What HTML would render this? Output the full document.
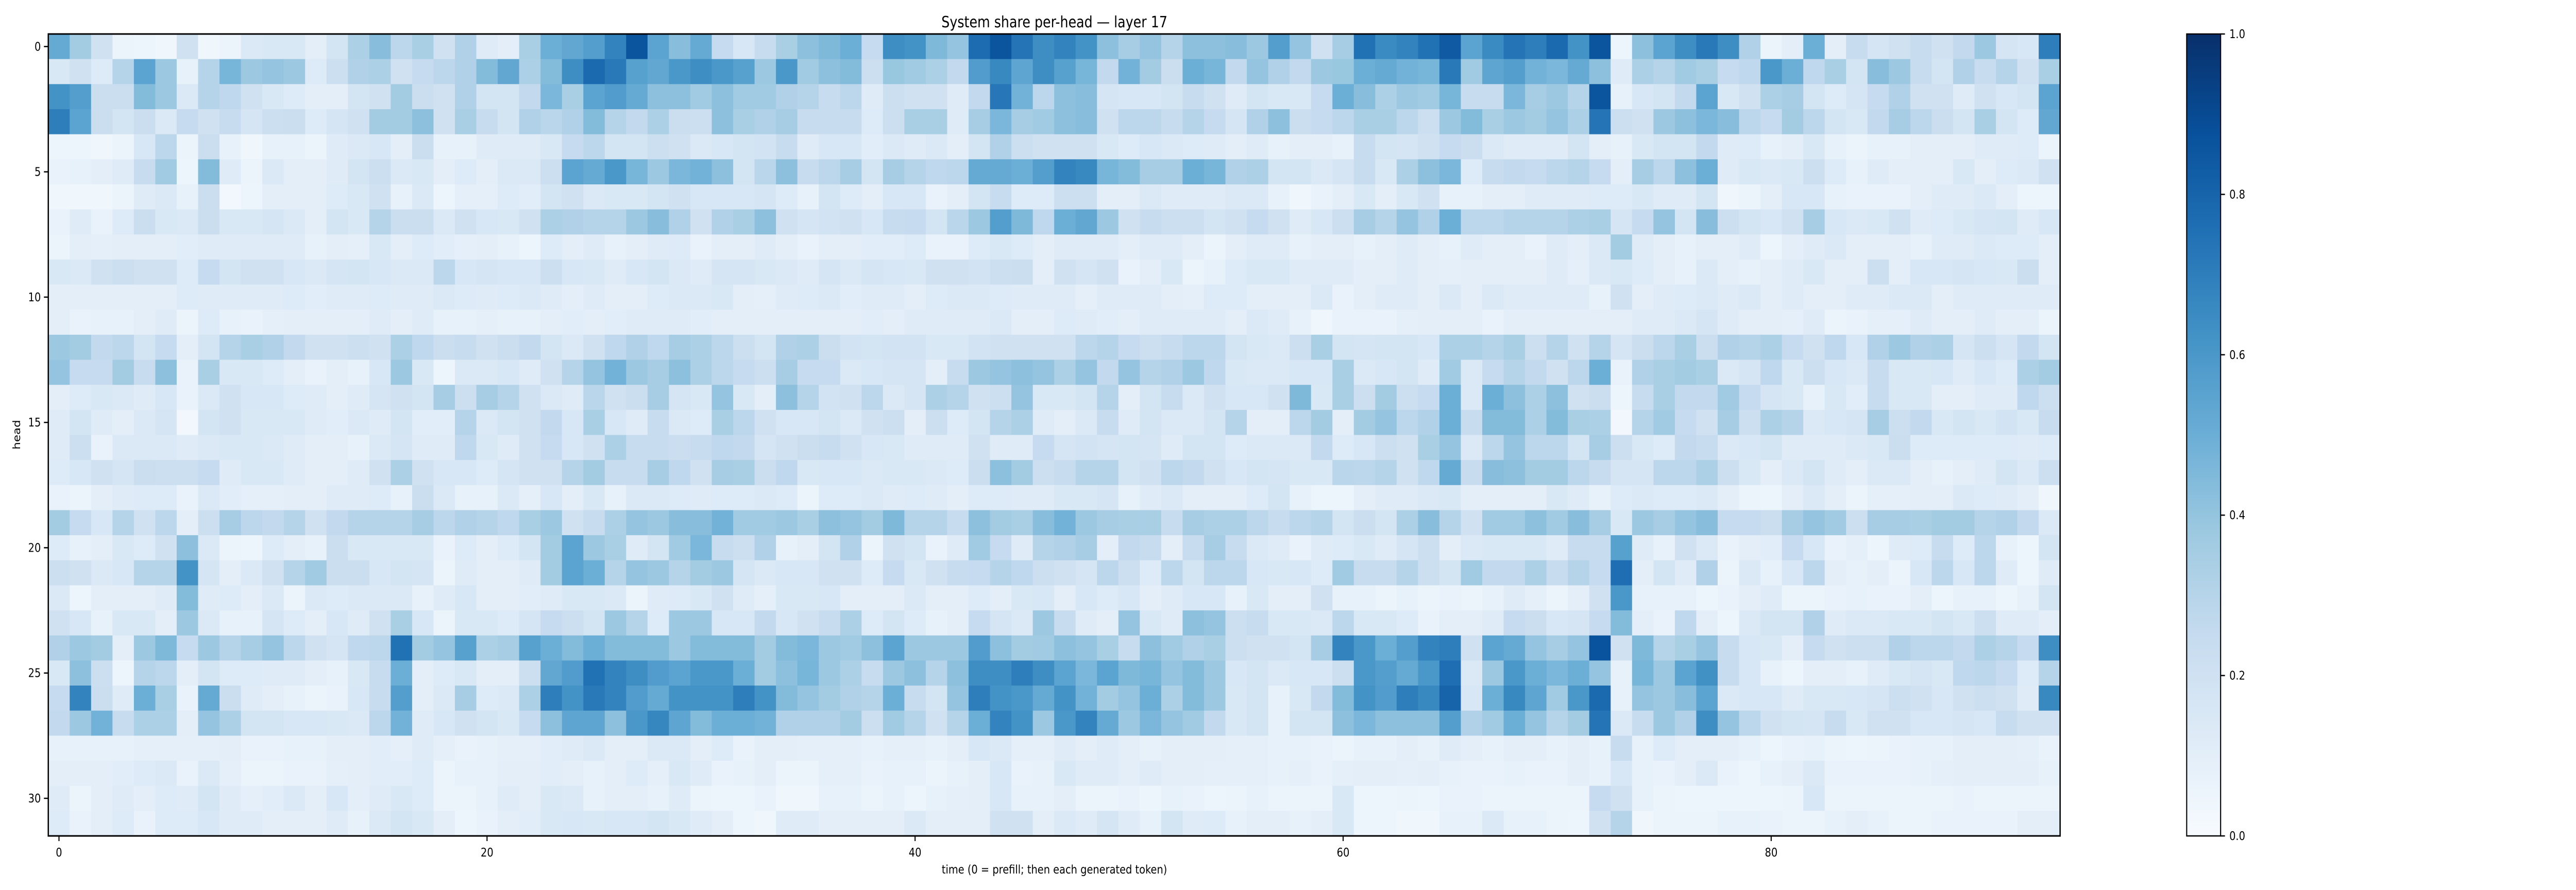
<!DOCTYPE html>
<html><head><meta charset="utf-8"><title>System share per-head — layer 17</title>
<style>html,body{margin:0;padding:0;background:#fff;overflow:hidden}svg{display:block;position:absolute;left:0;top:0;width:100vw;height:100vh}text{font-family:"DejaVu Sans","Liberation Sans",sans-serif;fill:#000}</style>
</head><body>
<svg id="chart" viewBox="0 0 5922 1728" preserveAspectRatio="none" xmlns="http://www.w3.org/2000/svg">
<text x="2424" y="53" font-size="30" text-anchor="middle">System share per-head — layer 17</text>
<g id="cells"></g>
<g id="axes"></g>
<text x="2424" y="1696" font-size="23" text-anchor="middle">time (0 = prefill; then each generated token)</text>
<text x="46" y="844" font-size="23" text-anchor="middle" transform="rotate(-90 46 844)">head</text>
<defs><linearGradient id="cbgrad" x1="0" y1="1" x2="0" y2="0">
<stop offset="0" stop-color="#f7fbff"/><stop offset="0.125" stop-color="#deebf7"/><stop offset="0.25" stop-color="#c6dbef"/><stop offset="0.375" stop-color="#9ecae1"/><stop offset="0.5" stop-color="#6baed6"/><stop offset="0.625" stop-color="#4292c6"/><stop offset="0.75" stop-color="#2171b5"/><stop offset="0.875" stop-color="#08519c"/><stop offset="1" stop-color="#08306b"/>
</linearGradient></defs>
<g id="colorbar"></g>
</svg>
<script>
const xTicks = [0, 20, 40, 60, 80];
const yTicks = [0, 5, 10, 15, 20, 25, 30];
const cbTicks = [0.0, 0.2, 0.4, 0.6, 0.8, 1.0];
const h0=[0.52,0.36,0.2,0.06,0.05,0.04,0.2,0.04,0.06,0.14,0.15,0.15,0.1,0.18,0.33,0.43,0.28,0.34,0.2,0.32,0.12,0.1,0.34,0.5,0.53,0.57,0.68,0.86,0.55,0.43,0.52,0.25,0.16,0.24,0.34,0.42,0.45,0.5,0.25,0.64,0.62,0.45,0.4,0.77,0.86,0.74,0.64,0.68,0.62,0.42,0.35,0.4,0.3,0.42,0.42,0.43,0.38,0.57,0.4,0.2,0.35,0.75,0.65,0.68,0.75,0.84,0.55,0.65,0.74,0.7,0.78,0.62,0.86,0.05,0.42,0.55,0.64,0.72,0.64,0.32,0.06,0.1,0.5,0.1,0.24,0.17,0.2,0.24,0.2,0.26,0.38,0.17,0.16,0.7];
const h1=[0.15,0.2,0.13,0.3,0.55,0.38,0.08,0.3,0.47,0.38,0.4,0.38,0.13,0.22,0.32,0.33,0.2,0.25,0.28,0.32,0.44,0.53,0.33,0.44,0.64,0.78,0.72,0.56,0.53,0.6,0.64,0.6,0.56,0.38,0.6,0.37,0.42,0.44,0.22,0.39,0.37,0.33,0.26,0.58,0.66,0.54,0.64,0.56,0.47,0.26,0.48,0.36,0.23,0.5,0.47,0.26,0.4,0.32,0.26,0.38,0.39,0.5,0.52,0.48,0.47,0.72,0.37,0.54,0.57,0.48,0.46,0.52,0.42,0.12,0.33,0.3,0.37,0.34,0.25,0.27,0.6,0.5,0.27,0.34,0.18,0.43,0.38,0.24,0.18,0.32,0.24,0.3,0.2,0.34];
const h2=[0.62,0.57,0.23,0.23,0.44,0.38,0.14,0.3,0.27,0.2,0.15,0.13,0.1,0.1,0.18,0.2,0.36,0.23,0.2,0.32,0.18,0.18,0.26,0.46,0.34,0.55,0.58,0.52,0.42,0.42,0.37,0.42,0.37,0.37,0.32,0.3,0.24,0.28,0.12,0.22,0.2,0.2,0.12,0.26,0.73,0.48,0.28,0.42,0.43,0.17,0.16,0.16,0.18,0.24,0.2,0.12,0.18,0.15,0.15,0.25,0.5,0.43,0.33,0.38,0.37,0.47,0.24,0.24,0.46,0.35,0.38,0.3,0.86,0.08,0.16,0.18,0.26,0.55,0.15,0.2,0.33,0.35,0.18,0.13,0.17,0.25,0.32,0.2,0.2,0.12,0.2,0.16,0.18,0.55];
const h3=[0.7,0.55,0.23,0.18,0.23,0.14,0.25,0.2,0.24,0.17,0.22,0.23,0.13,0.17,0.2,0.36,0.36,0.42,0.2,0.34,0.24,0.18,0.32,0.29,0.32,0.44,0.3,0.26,0.33,0.23,0.22,0.42,0.34,0.32,0.35,0.24,0.24,0.24,0.13,0.22,0.34,0.34,0.12,0.35,0.46,0.35,0.37,0.42,0.43,0.2,0.28,0.28,0.24,0.3,0.25,0.17,0.32,0.42,0.23,0.25,0.28,0.34,0.34,0.28,0.22,0.38,0.44,0.34,0.38,0.36,0.4,0.33,0.74,0.22,0.2,0.38,0.42,0.46,0.43,0.28,0.25,0.36,0.28,0.18,0.15,0.26,0.35,0.28,0.23,0.18,0.34,0.18,0.13,0.53];
const h4=[0.05,0.05,0.04,0.06,0.16,0.28,0.06,0.23,0.08,0.04,0.08,0.08,0.06,0.12,0.14,0.16,0.1,0.23,0.08,0.08,0.12,0.12,0.12,0.15,0.25,0.28,0.18,0.18,0.22,0.2,0.14,0.16,0.18,0.19,0.24,0.12,0.16,0.16,0.11,0.14,0.12,0.14,0.1,0.18,0.32,0.22,0.2,0.2,0.2,0.15,0.13,0.16,0.14,0.13,0.12,0.1,0.12,0.08,0.1,0.1,0.08,0.24,0.18,0.17,0.2,0.25,0.23,0.14,0.12,0.12,0.12,0.18,0.1,0.08,0.15,0.18,0.18,0.26,0.12,0.13,0.08,0.1,0.15,0.08,0.06,0.08,0.08,0.1,0.1,0.1,0.12,0.12,0.13,0.06];
const h5=[0.07,0.08,0.1,0.12,0.24,0.37,0.05,0.44,0.12,0.06,0.14,0.1,0.1,0.12,0.18,0.22,0.14,0.15,0.1,0.13,0.1,0.14,0.14,0.22,0.55,0.52,0.6,0.47,0.38,0.46,0.48,0.42,0.18,0.29,0.42,0.24,0.28,0.35,0.18,0.35,0.3,0.27,0.28,0.52,0.52,0.5,0.57,0.68,0.66,0.47,0.44,0.35,0.35,0.5,0.47,0.32,0.33,0.18,0.18,0.14,0.17,0.24,0.15,0.33,0.42,0.46,0.13,0.24,0.26,0.25,0.28,0.3,0.25,0.1,0.35,0.28,0.42,0.5,0.12,0.15,0.14,0.15,0.22,0.13,0.08,0.12,0.1,0.1,0.1,0.15,0.1,0.13,0.14,0.2];
const h6=[0.04,0.04,0.04,0.06,0.12,0.14,0.08,0.23,0.03,0.05,0.1,0.1,0.1,0.13,0.15,0.2,0.08,0.14,0.05,0.09,0.09,0.13,0.11,0.18,0.2,0.14,0.15,0.15,0.18,0.2,0.16,0.16,0.16,0.17,0.13,0.08,0.18,0.13,0.1,0.16,0.16,0.07,0.1,0.18,0.24,0.13,0.13,0.22,0.22,0.1,0.1,0.14,0.12,0.12,0.12,0.14,0.14,0.08,0.04,0.07,0.1,0.15,0.1,0.15,0.2,0.08,0.08,0.1,0.1,0.12,0.12,0.12,0.13,0.13,0.15,0.12,0.12,0.18,0.04,0.06,0.1,0.16,0.16,0.08,0.07,0.07,0.07,0.1,0.12,0.12,0.14,0.1,0.05,0.05];
const h7=[0.07,0.12,0.07,0.13,0.23,0.15,0.14,0.23,0.15,0.15,0.17,0.14,0.1,0.18,0.15,0.3,0.23,0.23,0.14,0.2,0.16,0.15,0.2,0.33,0.32,0.3,0.3,0.38,0.43,0.32,0.2,0.32,0.34,0.42,0.2,0.17,0.19,0.2,0.16,0.24,0.25,0.18,0.29,0.38,0.57,0.45,0.27,0.5,0.53,0.38,0.2,0.24,0.22,0.22,0.18,0.2,0.25,0.2,0.12,0.16,0.22,0.35,0.3,0.4,0.32,0.5,0.28,0.28,0.3,0.3,0.3,0.33,0.34,0.17,0.25,0.4,0.18,0.43,0.22,0.18,0.16,0.2,0.35,0.16,0.14,0.15,0.2,0.12,0.13,0.15,0.17,0.18,0.12,0.16];
const h8=[0.06,0.1,0.09,0.1,0.1,0.1,0.11,0.12,0.12,0.12,0.12,0.12,0.08,0.1,0.09,0.15,0.1,0.13,0.11,0.09,0.1,0.08,0.05,0.13,0.1,0.12,0.08,0.1,0.12,0.13,0.07,0.1,0.1,0.12,0.1,0.07,0.1,0.1,0.11,0.11,0.13,0.07,0.07,0.13,0.15,0.13,0.1,0.12,0.12,0.12,0.1,0.12,0.12,0.1,0.06,0.1,0.12,0.12,0.08,0.1,0.1,0.08,0.1,0.12,0.1,0.08,0.12,0.1,0.1,0.07,0.12,0.1,0.14,0.36,0.12,0.1,0.08,0.1,0.1,0.12,0.05,0.1,0.12,0.14,0.1,0.1,0.1,0.08,0.12,0.12,0.14,0.13,0.13,0.1];
const h9=[0.15,0.14,0.2,0.22,0.2,0.2,0.13,0.25,0.18,0.2,0.2,0.16,0.14,0.17,0.18,0.16,0.14,0.14,0.28,0.16,0.17,0.16,0.16,0.22,0.16,0.15,0.12,0.16,0.18,0.14,0.12,0.17,0.17,0.15,0.14,0.12,0.17,0.14,0.17,0.16,0.15,0.2,0.2,0.19,0.22,0.23,0.1,0.2,0.17,0.2,0.07,0.1,0.15,0.06,0.08,0.13,0.15,0.15,0.12,0.12,0.12,0.1,0.1,0.12,0.1,0.09,0.1,0.1,0.1,0.1,0.12,0.09,0.14,0.15,0.13,0.1,0.08,0.14,0.1,0.08,0.1,0.12,0.15,0.1,0.1,0.22,0.1,0.16,0.16,0.17,0.16,0.15,0.23,0.1];
const h10=[0.1,0.1,0.1,0.1,0.1,0.1,0.13,0.12,0.12,0.12,0.12,0.13,0.11,0.12,0.12,0.13,0.12,0.12,0.14,0.13,0.12,0.13,0.14,0.12,0.1,0.12,0.1,0.1,0.13,0.14,0.14,0.15,0.1,0.09,0.12,0.13,0.14,0.11,0.12,0.12,0.1,0.13,0.14,0.14,0.13,0.12,0.12,0.12,0.09,0.12,0.12,0.12,0.1,0.09,0.13,0.13,0.1,0.1,0.1,0.14,0.07,0.1,0.12,0.12,0.1,0.14,0.1,0.14,0.12,0.12,0.12,0.12,0.08,0.2,0.1,0.12,0.13,0.14,0.12,0.14,0.1,0.12,0.1,0.1,0.12,0.12,0.14,0.14,0.1,0.12,0.12,0.12,0.12,0.12];
const h11=[0.1,0.07,0.08,0.08,0.1,0.12,0.06,0.13,0.08,0.07,0.09,0.1,0.1,0.1,0.1,0.12,0.1,0.12,0.08,0.08,0.09,0.08,0.08,0.1,0.11,0.1,0.11,0.12,0.12,0.12,0.11,0.1,0.1,0.1,0.1,0.1,0.1,0.1,0.11,0.1,0.12,0.12,0.12,0.12,0.14,0.1,0.1,0.13,0.12,0.11,0.1,0.12,0.12,0.12,0.12,0.1,0.14,0.12,0.08,0.04,0.07,0.07,0.07,0.09,0.1,0.1,0.1,0.07,0.1,0.1,0.1,0.1,0.1,0.1,0.12,0.12,0.14,0.17,0.12,0.1,0.1,0.09,0.12,0.06,0.07,0.09,0.09,0.12,0.1,0.1,0.12,0.1,0.1,0.06];
const h12=[0.38,0.36,0.26,0.28,0.18,0.25,0.1,0.18,0.3,0.34,0.32,0.26,0.2,0.2,0.22,0.2,0.33,0.27,0.23,0.24,0.2,0.23,0.26,0.18,0.14,0.2,0.27,0.32,0.27,0.35,0.33,0.28,0.22,0.18,0.32,0.33,0.23,0.19,0.18,0.19,0.19,0.15,0.15,0.19,0.2,0.2,0.2,0.2,0.28,0.3,0.25,0.22,0.24,0.28,0.28,0.18,0.15,0.14,0.22,0.34,0.18,0.17,0.18,0.18,0.16,0.33,0.33,0.3,0.34,0.22,0.3,0.2,0.3,0.17,0.23,0.28,0.34,0.23,0.32,0.3,0.33,0.25,0.2,0.27,0.16,0.32,0.38,0.32,0.33,0.17,0.22,0.17,0.26,0.18];
const h13=[0.4,0.25,0.25,0.36,0.24,0.42,0.07,0.34,0.15,0.15,0.13,0.1,0.07,0.1,0.08,0.16,0.38,0.15,0.05,0.14,0.14,0.16,0.12,0.2,0.3,0.4,0.48,0.38,0.35,0.42,0.33,0.28,0.25,0.22,0.35,0.25,0.25,0.14,0.16,0.17,0.17,0.1,0.24,0.38,0.4,0.42,0.4,0.33,0.4,0.26,0.4,0.3,0.32,0.38,0.27,0.15,0.14,0.14,0.16,0.16,0.34,0.14,0.16,0.18,0.12,0.37,0.14,0.25,0.3,0.26,0.2,0.28,0.5,0.07,0.32,0.34,0.36,0.34,0.14,0.17,0.27,0.15,0.22,0.16,0.14,0.24,0.15,0.15,0.16,0.12,0.16,0.13,0.33,0.36];
const h14=[0.1,0.13,0.15,0.14,0.12,0.16,0.07,0.14,0.2,0.16,0.16,0.13,0.12,0.1,0.12,0.17,0.2,0.18,0.35,0.22,0.35,0.3,0.2,0.14,0.12,0.29,0.2,0.23,0.35,0.17,0.15,0.4,0.15,0.1,0.42,0.3,0.19,0.2,0.28,0.14,0.17,0.33,0.3,0.2,0.22,0.4,0.15,0.15,0.18,0.3,0.1,0.18,0.24,0.14,0.2,0.16,0.16,0.2,0.45,0.15,0.34,0.22,0.36,0.22,0.25,0.5,0.14,0.5,0.42,0.33,0.42,0.2,0.23,0.05,0.24,0.34,0.26,0.26,0.37,0.25,0.17,0.15,0.08,0.15,0.11,0.24,0.15,0.15,0.1,0.1,0.12,0.12,0.27,0.22];
const h15=[0.12,0.18,0.12,0.1,0.14,0.17,0.03,0.18,0.2,0.15,0.15,0.15,0.12,0.11,0.14,0.12,0.18,0.11,0.11,0.3,0.14,0.18,0.2,0.26,0.16,0.34,0.16,0.12,0.24,0.14,0.13,0.34,0.28,0.2,0.16,0.16,0.18,0.14,0.2,0.22,0.1,0.22,0.13,0.18,0.3,0.33,0.12,0.1,0.14,0.24,0.12,0.18,0.14,0.14,0.18,0.3,0.1,0.1,0.28,0.36,0.1,0.36,0.4,0.28,0.32,0.5,0.24,0.44,0.44,0.33,0.44,0.34,0.33,0.03,0.3,0.37,0.25,0.2,0.35,0.22,0.33,0.3,0.14,0.16,0.17,0.35,0.22,0.26,0.15,0.18,0.15,0.19,0.15,0.24];
const h16=[0.12,0.22,0.07,0.14,0.14,0.14,0.12,0.14,0.15,0.15,0.14,0.12,0.1,0.1,0.08,0.14,0.17,0.12,0.12,0.27,0.15,0.12,0.2,0.25,0.16,0.2,0.33,0.24,0.24,0.23,0.24,0.27,0.26,0.17,0.2,0.23,0.24,0.2,0.16,0.15,0.12,0.12,0.12,0.2,0.12,0.12,0.25,0.17,0.19,0.17,0.18,0.17,0.12,0.18,0.18,0.13,0.14,0.14,0.14,0.26,0.13,0.16,0.22,0.2,0.34,0.4,0.14,0.28,0.4,0.28,0.28,0.18,0.35,0.22,0.15,0.13,0.26,0.24,0.14,0.16,0.18,0.12,0.12,0.12,0.14,0.15,0.23,0.13,0.13,0.13,0.13,0.13,0.12,0.13];
const h17=[0.13,0.16,0.2,0.17,0.23,0.22,0.22,0.25,0.12,0.15,0.15,0.12,0.1,0.1,0.12,0.2,0.33,0.2,0.16,0.16,0.13,0.17,0.2,0.2,0.3,0.36,0.24,0.24,0.35,0.27,0.2,0.35,0.34,0.23,0.27,0.15,0.16,0.16,0.14,0.15,0.15,0.14,0.13,0.23,0.42,0.36,0.22,0.24,0.3,0.3,0.18,0.2,0.28,0.26,0.2,0.16,0.18,0.17,0.15,0.15,0.29,0.28,0.3,0.2,0.27,0.52,0.24,0.43,0.42,0.36,0.36,0.28,0.24,0.17,0.17,0.28,0.28,0.33,0.22,0.15,0.1,0.14,0.18,0.12,0.1,0.14,0.14,0.1,0.08,0.1,0.12,0.18,0.14,0.22];
const h18=[0.07,0.06,0.1,0.12,0.13,0.13,0.07,0.14,0.11,0.09,0.09,0.1,0.1,0.12,0.12,0.13,0.08,0.23,0.14,0.08,0.08,0.14,0.09,0.16,0.1,0.15,0.08,0.14,0.14,0.13,0.12,0.13,0.13,0.14,0.13,0.06,0.13,0.13,0.14,0.12,0.13,0.12,0.1,0.13,0.13,0.12,0.12,0.15,0.15,0.17,0.08,0.12,0.14,0.1,0.1,0.1,0.13,0.18,0.08,0.05,0.05,0.1,0.12,0.12,0.14,0.15,0.1,0.1,0.1,0.1,0.15,0.12,0.08,0.13,0.14,0.13,0.13,0.14,0.1,0.06,0.05,0.1,0.14,0.1,0.06,0.09,0.09,0.1,0.1,0.14,0.13,0.12,0.1,0.04];
const h19=[0.36,0.25,0.16,0.3,0.2,0.28,0.1,0.22,0.35,0.28,0.26,0.3,0.2,0.26,0.3,0.3,0.3,0.35,0.28,0.32,0.3,0.27,0.34,0.38,0.2,0.24,0.33,0.4,0.38,0.43,0.43,0.48,0.37,0.37,0.38,0.34,0.42,0.4,0.36,0.45,0.3,0.3,0.24,0.42,0.36,0.34,0.43,0.48,0.38,0.35,0.34,0.34,0.24,0.35,0.33,0.33,0.28,0.24,0.28,0.3,0.18,0.23,0.18,0.33,0.43,0.3,0.2,0.37,0.37,0.42,0.37,0.43,0.35,0.15,0.38,0.35,0.4,0.43,0.25,0.25,0.23,0.35,0.4,0.37,0.22,0.35,0.35,0.34,0.36,0.36,0.3,0.32,0.26,0.14];
const h20=[0.13,0.08,0.1,0.15,0.13,0.2,0.42,0.14,0.06,0.05,0.13,0.1,0.08,0.23,0.15,0.15,0.15,0.15,0.07,0.13,0.1,0.13,0.18,0.36,0.55,0.38,0.34,0.12,0.18,0.37,0.46,0.24,0.22,0.32,0.08,0.1,0.18,0.32,0.06,0.2,0.18,0.07,0.12,0.37,0.25,0.12,0.3,0.32,0.35,0.1,0.26,0.24,0.1,0.24,0.35,0.24,0.14,0.12,0.07,0.12,0.13,0.15,0.12,0.17,0.22,0.1,0.14,0.15,0.15,0.15,0.12,0.24,0.24,0.56,0.12,0.08,0.2,0.14,0.07,0.1,0.11,0.25,0.16,0.07,0.09,0.05,0.12,0.13,0.24,0.13,0.28,0.08,0.05,0.18];
const h21=[0.22,0.2,0.14,0.16,0.3,0.3,0.62,0.17,0.1,0.14,0.2,0.3,0.37,0.23,0.23,0.16,0.18,0.17,0.06,0.12,0.1,0.1,0.12,0.36,0.55,0.5,0.3,0.4,0.38,0.3,0.36,0.38,0.17,0.14,0.16,0.16,0.2,0.2,0.13,0.25,0.15,0.2,0.24,0.25,0.3,0.27,0.22,0.2,0.17,0.28,0.22,0.13,0.28,0.18,0.28,0.28,0.16,0.15,0.16,0.13,0.37,0.24,0.24,0.3,0.22,0.18,0.37,0.26,0.26,0.33,0.24,0.3,0.25,0.76,0.1,0.18,0.12,0.32,0.06,0.14,0.08,0.16,0.28,0.1,0.08,0.1,0.06,0.16,0.28,0.16,0.28,0.12,0.05,0.12];
const h22=[0.14,0.05,0.1,0.1,0.1,0.12,0.44,0.12,0.13,0.1,0.14,0.06,0.14,0.13,0.14,0.14,0.14,0.08,0.12,0.16,0.1,0.1,0.11,0.12,0.15,0.15,0.14,0.06,0.12,0.13,0.15,0.2,0.12,0.09,0.15,0.15,0.16,0.1,0.1,0.1,0.14,0.1,0.1,0.13,0.1,0.15,0.16,0.1,0.16,0.13,0.16,0.1,0.12,0.16,0.16,0.08,0.15,0.1,0.1,0.2,0.08,0.08,0.06,0.08,0.06,0.07,0.06,0.08,0.12,0.09,0.06,0.1,0.2,0.6,0.08,0.08,0.08,0.05,0.07,0.1,0.12,0.06,0.06,0.07,0.08,0.07,0.07,0.1,0.05,0.08,0.08,0.05,0.08,0.18];
const h23=[0.2,0.16,0.08,0.15,0.15,0.1,0.38,0.14,0.08,0.08,0.17,0.13,0.1,0.16,0.12,0.2,0.34,0.16,0.06,0.15,0.15,0.13,0.17,0.25,0.22,0.18,0.38,0.3,0.13,0.38,0.38,0.16,0.16,0.26,0.16,0.2,0.24,0.33,0.13,0.18,0.13,0.08,0.1,0.25,0.17,0.14,0.38,0.24,0.12,0.1,0.4,0.15,0.12,0.42,0.4,0.22,0.24,0.15,0.15,0.14,0.28,0.15,0.15,0.13,0.07,0.1,0.1,0.12,0.25,0.23,0.16,0.17,0.25,0.44,0.1,0.07,0.27,0.1,0.05,0.14,0.18,0.18,0.32,0.12,0.14,0.14,0.15,0.15,0.18,0.15,0.22,0.12,0.12,0.1];
const h24=[0.32,0.38,0.36,0.1,0.38,0.45,0.25,0.38,0.3,0.35,0.4,0.28,0.2,0.17,0.27,0.28,0.75,0.36,0.4,0.56,0.33,0.35,0.56,0.5,0.44,0.5,0.44,0.44,0.44,0.38,0.44,0.44,0.44,0.36,0.44,0.46,0.38,0.37,0.42,0.55,0.38,0.38,0.38,0.58,0.42,0.36,0.37,0.42,0.4,0.34,0.24,0.42,0.37,0.32,0.34,0.22,0.2,0.2,0.18,0.35,0.68,0.6,0.5,0.57,0.68,0.7,0.2,0.55,0.52,0.4,0.35,0.4,0.87,0.2,0.45,0.3,0.34,0.4,0.24,0.16,0.15,0.1,0.25,0.2,0.22,0.22,0.32,0.28,0.28,0.26,0.33,0.3,0.25,0.64];
const h25=[0.15,0.42,0.22,0.05,0.3,0.28,0.1,0.18,0.13,0.13,0.12,0.12,0.1,0.08,0.15,0.24,0.5,0.1,0.13,0.15,0.1,0.1,0.22,0.53,0.58,0.75,0.68,0.64,0.58,0.55,0.6,0.6,0.5,0.36,0.42,0.47,0.38,0.33,0.24,0.38,0.42,0.3,0.42,0.64,0.64,0.7,0.64,0.55,0.46,0.55,0.45,0.47,0.4,0.44,0.38,0.16,0.18,0.14,0.16,0.16,0.22,0.6,0.57,0.52,0.6,0.76,0.14,0.38,0.6,0.5,0.46,0.5,0.4,0.08,0.47,0.38,0.55,0.63,0.24,0.16,0.08,0.05,0.1,0.1,0.08,0.12,0.15,0.17,0.15,0.27,0.28,0.25,0.13,0.3];
const h26=[0.25,0.68,0.23,0.12,0.5,0.34,0.07,0.52,0.23,0.12,0.1,0.08,0.06,0.07,0.16,0.24,0.57,0.1,0.14,0.35,0.13,0.14,0.33,0.7,0.62,0.72,0.68,0.58,0.52,0.62,0.62,0.62,0.7,0.62,0.44,0.4,0.36,0.32,0.3,0.5,0.24,0.18,0.4,0.7,0.62,0.6,0.52,0.62,0.48,0.36,0.4,0.5,0.33,0.44,0.38,0.15,0.18,0.08,0.15,0.26,0.44,0.62,0.58,0.7,0.66,0.8,0.16,0.5,0.66,0.54,0.37,0.6,0.78,0.08,0.4,0.38,0.43,0.55,0.14,0.16,0.16,0.12,0.15,0.15,0.16,0.17,0.22,0.2,0.16,0.2,0.22,0.2,0.12,0.66];
const h27=[0.26,0.38,0.48,0.24,0.33,0.33,0.1,0.4,0.33,0.18,0.18,0.16,0.16,0.15,0.14,0.28,0.48,0.12,0.16,0.2,0.18,0.15,0.25,0.42,0.54,0.54,0.42,0.6,0.67,0.54,0.44,0.5,0.5,0.48,0.32,0.32,0.32,0.36,0.22,0.37,0.3,0.2,0.3,0.5,0.68,0.62,0.38,0.6,0.68,0.52,0.38,0.46,0.4,0.37,0.26,0.15,0.18,0.08,0.18,0.18,0.42,0.46,0.42,0.42,0.42,0.57,0.32,0.37,0.5,0.4,0.3,0.36,0.74,0.14,0.24,0.38,0.32,0.64,0.4,0.28,0.2,0.18,0.17,0.24,0.15,0.2,0.2,0.16,0.16,0.17,0.16,0.24,0.2,0.2];
const h28=[0.08,0.08,0.08,0.08,0.09,0.09,0.09,0.09,0.1,0.07,0.07,0.08,0.08,0.1,0.1,0.11,0.09,0.12,0.09,0.07,0.08,0.09,0.09,0.11,0.12,0.14,0.1,0.1,0.14,0.14,0.1,0.13,0.07,0.1,0.1,0.09,0.09,0.09,0.08,0.09,0.09,0.08,0.1,0.16,0.14,0.09,0.09,0.12,0.1,0.12,0.1,0.08,0.1,0.1,0.1,0.09,0.09,0.08,0.08,0.07,0.06,0.08,0.08,0.1,0.08,0.12,0.1,0.08,0.1,0.1,0.08,0.1,0.08,0.24,0.08,0.13,0.1,0.1,0.1,0.08,0.05,0.07,0.08,0.06,0.05,0.06,0.07,0.08,0.08,0.1,0.1,0.1,0.09,0.07];
const h29=[0.1,0.1,0.1,0.11,0.13,0.14,0.07,0.14,0.09,0.06,0.06,0.07,0.07,0.09,0.1,0.11,0.11,0.13,0.06,0.08,0.08,0.1,0.1,0.11,0.1,0.08,0.1,0.13,0.09,0.15,0.12,0.07,0.08,0.1,0.06,0.06,0.09,0.09,0.07,0.08,0.08,0.06,0.08,0.1,0.16,0.07,0.08,0.15,0.12,0.12,0.1,0.12,0.1,0.1,0.09,0.09,0.09,0.08,0.09,0.07,0.09,0.1,0.1,0.09,0.1,0.08,0.07,0.07,0.08,0.07,0.07,0.1,0.08,0.16,0.08,0.07,0.1,0.14,0.07,0.05,0.08,0.1,0.14,0.07,0.07,0.07,0.07,0.08,0.09,0.1,0.1,0.1,0.1,0.08];
const h30=[0.12,0.06,0.1,0.12,0.1,0.13,0.12,0.18,0.12,0.09,0.11,0.14,0.1,0.16,0.1,0.12,0.15,0.13,0.06,0.06,0.08,0.12,0.1,0.15,0.14,0.08,0.1,0.1,0.08,0.12,0.06,0.05,0.05,0.07,0.04,0.04,0.08,0.08,0.06,0.08,0.05,0.08,0.09,0.1,0.16,0.08,0.08,0.1,0.06,0.06,0.07,0.05,0.08,0.07,0.05,0.06,0.08,0.06,0.06,0.06,0.15,0.05,0.05,0.06,0.05,0.07,0.07,0.06,0.06,0.06,0.06,0.06,0.25,0.2,0.08,0.06,0.05,0.05,0.05,0.05,0.05,0.06,0.16,0.06,0.06,0.06,0.06,0.06,0.06,0.07,0.06,0.06,0.06,0.06];
const h31=[0.13,0.07,0.1,0.13,0.07,0.13,0.13,0.16,0.12,0.12,0.1,0.1,0.1,0.12,0.08,0.14,0.18,0.15,0.1,0.05,0.07,0.1,0.11,0.15,0.16,0.15,0.16,0.16,0.18,0.15,0.12,0.1,0.05,0.04,0.12,0.12,0.1,0.1,0.1,0.1,0.14,0.1,0.1,0.1,0.2,0.2,0.1,0.14,0.12,0.17,0.12,0.08,0.18,0.12,0.13,0.08,0.1,0.1,0.08,0.1,0.15,0.05,0.05,0.04,0.04,0.08,0.08,0.14,0.08,0.08,0.06,0.05,0.2,0.3,0.04,0.06,0.06,0.06,0.08,0.08,0.07,0.06,0.06,0.08,0.1,0.08,0.06,0.06,0.07,0.07,0.07,0.07,0.1,0.1];
const heads = [h0,h1,h2,h3,h4,h5,h6,h7,h8,h9,h10,h11,h12,h13,h14,h15,h16,h17,h18,h19,h20,h21,h22,h23,h24,h25,h26,h27,h28,h29,h30,h31];

const NS = "http://www.w3.org/2000/svg";
const L = 111, R = 4736, T = 66, B = 1623;
const nCols = h0.length, nRows = heads.length;
const cw = (R - L) / nCols, ch = (B - T) / nRows;
const xScale = c => L + (c + 0.5) * cw;
const yScale = r => T + (r + 0.5) * ch;
const CB_L = 5027, CB_R = 5105;
const cbY = v => B - v * (B - T);
const stops = ["#f7fbff","#deebf7","#c6dbef","#9ecae1","#6baed6","#4292c6","#2171b5","#08519c","#08306b"];
function hex(h){return [1,3,5].map(i=>parseInt(h.substr(i,2),16));}
const stopRGB = stops.map(hex);
function blues(v){
  v = Math.max(0, Math.min(1, v));
  const p = v * 8, i = Math.min(7, Math.floor(p)), t = p - i;
  const a = stopRGB[i], b = stopRGB[i+1];
  return "rgb(" + a.map((x,k)=>Math.round(x+(b[k]-x)*t)).join(",") + ")";
}
function mk(tag, attrs, parent){
  const e = document.createElementNS(NS, tag);
  for (const k in attrs) e.setAttribute(k, attrs[k]);
  parent.appendChild(e); return e;
}
const cells = document.getElementById("cells");
heads.forEach((row, r) => {
  row.forEach((v, c) => {
    const rect = mk("rect", {x: (xScale(c) - cw/2).toFixed(2), y: (yScale(r) - ch/2).toFixed(2), width: (cw + 0.6).toFixed(2), height: (ch + 0.6).toFixed(2), fill: blues(v)}, cells);
    
    
  });
});
const axes = document.getElementById("axes");
const frame = mk("rect", {x: L, y: T, width: R - L, height: B - T, fill: "none", stroke: "#000", "stroke-width": 3}, axes);


xTicks.forEach(t => {
  const x = xScale(t);
  const ln = mk("line", {x1: x, y1: B, x2: x, y2: B + 10, stroke: "#000", "stroke-width": 2.5}, axes);
  
  
  const tx = mk("text", {x: x, y: B + 40, "font-size": 23, "text-anchor": "middle"}, axes);
  tx.textContent = t;
  
  
});
yTicks.forEach(t => {
  const y = yScale(t);
  const ln = mk("line", {x1: L - 10, y1: y, x2: L, y2: y, stroke: "#000", "stroke-width": 2.5}, axes);
  
  
  const tx = mk("text", {x: L - 17, y: y + 8, "font-size": 23, "text-anchor": "end"}, axes);
  tx.textContent = t;
  
  
});
const cb = document.getElementById("colorbar");
const cbr = mk("rect", {x: CB_L, y: T, width: CB_R - CB_L, height: B - T, fill: "url(#cbgrad)", stroke: "#000", "stroke-width": 2.5}, cb);


cbTicks.forEach(t => {
  const y = cbY(t);
  const ln = mk("line", {x1: CB_R, y1: y, x2: CB_R + 10, y2: y, stroke: "#000", "stroke-width": 2.5}, cb);
  
  
  const tx = mk("text", {x: CB_R + 20, y: y + 8, "font-size": 23}, cb);
  tx.textContent = t.toFixed(1);
  
  
});
</script>
</body></html>
